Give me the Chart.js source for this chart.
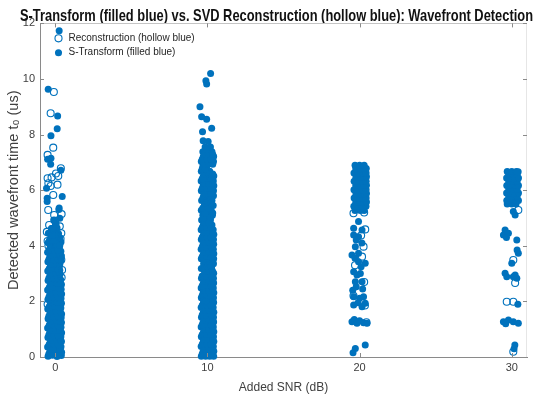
<!DOCTYPE html>
<html><head><meta charset="utf-8">
<script src="https://cdn.jsdelivr.net/npm/chart.js@4/dist/chart.umd.min.js"></script>
<style>html,body{margin:0;padding:0;background:#fff;}canvas{display:block;}</style>
</head><body>
<canvas id="c" width="550" height="397"></canvas>
<script>
const titleText = 'S-Transform (filled blue) vs. SVD Reconstruction (hollow blue): Wavefront Detection';
const xTitle = 'Added SNR (dB)';
const yTitle = 'Detected wavefront time t\u2080 (us)';
const seriesNames = ['Reconstruction (hollow blue)', 'S-Transform (filled blue)'];
const snrLevels = [0, 10, 20, 30];
const xTicks = [0, 10, 20, 30];
const yTicks = [0, 2, 4, 6, 8, 10, 12];

// [offset from SNR level, detected time] pairs, S-Transform (filled)
const st0 = [
 [-0.47,0.03],[-0.18,0.06],[0.12,0.02],[0.40,0.05],
 [-0.35,0.2],[-0.05,0.18],[0.25,0.22],[0.42,0.17],
 [-0.5,0.36],[-0.2,0.38],[0.1,0.34],[0.38,0.37],
 [-0.33,0.53],[-0.02,0.55],[0.26,0.51],[0.41,0.56],
 [-0.48,0.7],[-0.16,0.72],[0.13,0.69],[0.37,0.73],
 [-0.36,0.88],[-0.06,0.86],[0.24,0.9],[0.42,0.87],
 [-0.5,1.04],[-0.19,1.06],[0.1,1.03],[0.38,1.07],
 [-0.34,1.21],[-0.03,1.23],[0.27,1.2],[0.41,1.24],
 [-0.47,1.38],[-0.17,1.4],[0.12,1.37],[0.39,1.41],
 [-0.35,1.56],[-0.05,1.54],[0.25,1.58],[0.42,1.55],
 [-0.49,1.73],[-0.2,1.75],[0.09,1.72],[0.37,1.76],
 [-0.32,1.9],[-0.02,1.92],[0.28,1.89],[0.41,1.93],
 [-0.48,2.07],[-0.16,2.09],[0.13,2.06],[0.38,2.1],
 [-0.36,2.24],[-0.06,2.26],[0.23,2.23],[0.42,2.27],
 [-0.5,2.41],[-0.19,2.43],[0.11,2.4],[0.39,2.44],
 [-0.33,2.58],[-0.03,2.6],[0.27,2.57],[0.41,2.61],
 [-0.47,2.75],[-0.17,2.77],[0.12,2.74],[0.36,2.78],
 [-0.35,2.92],[-0.05,2.94],[0.24,2.91],
 [-0.49,3.09],[-0.2,3.11],[0.1,3.08],[0.3,3.12],
 [-0.32,3.26],[-0.02,3.28],[0.27,3.25],
 [-0.48,3.43],[-0.16,3.45],[0.13,3.42],[0.38,3.46],
 [-0.36,3.6],[-0.06,3.62],[0.24,3.59],[0.41,3.63],
 [-0.5,3.77],[-0.19,3.79],[0.1,3.76],[0.37,3.8],
 [-0.33,3.94],[-0.03,3.96],[0.27,3.93],
 [-0.47,4.11],[-0.15,4.13],[0.14,4.1],[0.38,4.14],
 [-0.3,4.28],[0.02,4.3],[0.3,4.26],
 [-0.45,4.45],[-0.1,4.47],[0.22,4.43],
 [-0.25,4.62],[0.12,4.64],
 [0.06,4.78],[0.3,4.99],[-0.1,4.93],
 [-0.42,0.11],[-0.1,0.12],[0.2,0.1],
 [-0.26,0.28],[0.05,0.29],[0.33,0.27],
 [-0.4,0.45],[-0.08,0.46],[0.2,0.44],
 [-0.22,0.62],[0.08,0.63],[0.34,0.61],
 [-0.42,0.79],[-0.1,0.8],[0.2,0.78],
 [-0.25,0.96],[0.05,0.97],[0.33,0.95],
 [-0.4,1.13],[-0.08,1.14],[0.2,1.12],
 [-0.24,1.3],[0.08,1.31],[0.34,1.29],
 [-0.42,1.47],[-0.1,1.48],[0.2,1.46],
 [-0.25,1.64],[0.05,1.65],[0.33,1.63],
 [-0.4,1.81],[-0.08,1.82],[0.2,1.8],
 [-0.24,1.98],[0.08,1.99],[0.34,1.97],
 [-0.42,2.15],[-0.1,2.16],[0.2,2.14],
 [-0.25,2.32],[0.05,2.33],[0.33,2.31],
 [-0.4,2.49],[-0.08,2.5],[0.2,2.48],
 [-0.24,2.66],[0.08,2.67],[0.34,2.65],
 [-0.42,2.83],[-0.1,2.84],[0.2,2.82],
 [-0.25,3.0],[0.05,3.01],[0.33,2.99],
 [-0.4,3.17],[-0.08,3.18],[0.2,3.16],
 [-0.24,3.34],[0.08,3.35],[0.3,3.33],
 [-0.42,3.51],[-0.1,3.52],[0.2,3.5],
 [-0.25,3.68],[0.05,3.69],[0.33,3.67],
 [-0.4,3.85],[-0.08,3.86],[0.2,3.84],
 [-0.24,4.02],[0.08,4.03],[0.3,4.01],
 [-0.38,4.2],[-0.05,4.2],[0.15,4.36],[-0.2,4.37],
 [-0.53,5.59],[0.26,5.36],[0.24,5.31],[-0.53,5.71],[0.46,5.77],[-0.57,6.07],
 [0.37,6.72],[-0.3,6.93],[-0.5,7.11],[-0.28,7.15],[-0.28,7.96],[0.13,8.21],
 [0.16,8.67],[-0.46,9.63],[0.26,11.74]
];
const st10 = [
 [-0.4,0.03],[-0.12,0.03],[0.15,0.03],[0.41,0.03],
 [-0.28,0.2],[0.01,0.2],[0.28,0.2],[0.42,0.21],
 [-0.41,0.38],[-0.14,0.38],[0.13,0.38],[0.39,0.38],
 [-0.27,0.55],[0.02,0.55],[0.29,0.55],[0.42,0.56],
 [-0.4,0.73],[-0.11,0.73],[0.16,0.73],[0.4,0.73],
 [-0.26,0.9],[0.0,0.9],[0.27,0.9],[0.42,0.91],
 [-0.41,1.08],[-0.13,1.08],[0.14,1.08],[0.39,1.08],
 [-0.28,1.25],[0.03,1.25],[0.3,1.25],[0.41,1.26],
 [-0.39,1.43],[-0.12,1.43],[0.15,1.43],[0.4,1.43],
 [-0.27,1.6],[0.01,1.6],[0.28,1.6],[0.42,1.61],
 [-0.41,1.78],[-0.14,1.78],[0.13,1.78],[0.38,1.78],
 [-0.26,1.95],[0.02,1.95],[0.29,1.95],[0.41,1.96],
 [-0.4,2.13],[-0.11,2.13],[0.16,2.13],[0.4,2.13],
 [-0.28,2.3],[0.0,2.3],[0.27,2.3],[0.42,2.31],
 [-0.41,2.48],[-0.13,2.48],[0.14,2.48],[0.39,2.48],
 [-0.27,2.65],[0.03,2.65],[0.3,2.65],[0.41,2.66],
 [-0.39,2.83],[-0.12,2.83],[0.15,2.83],[0.4,2.83],
 [-0.1,3.0],[0.2,3.0],[0.41,3.01],
 [-0.4,3.18],[0.0,3.18],[0.28,3.18],
 [-0.25,3.35],[0.12,3.35],[0.4,3.35],
 [-0.4,3.53],[-0.1,3.53],[0.18,3.53],[0.41,3.53],
 [-0.27,3.7],[0.02,3.7],[0.3,3.7],[0.42,3.71],
 [-0.41,3.88],[-0.13,3.88],[0.14,3.88],[0.39,3.88],
 [-0.28,4.05],[0.01,4.05],[0.28,4.05],[0.41,4.06],
 [-0.4,4.23],[-0.12,4.23],[0.15,4.23],[0.4,4.23],
 [-0.26,4.4],[0.02,4.4],[0.29,4.4],[0.42,4.41],
 [-0.41,4.58],[-0.14,4.58],[0.13,4.58],[0.38,4.58],
 [-0.27,4.75],[0.0,4.75],[0.3,4.75],
 [-0.38,4.93],[-0.1,4.93],[0.2,4.93],
 [-0.3,5.1],[0.05,5.1],[0.33,5.1],
 [-0.4,5.28],[-0.05,5.28],[0.25,5.28],
 [-0.2,5.45],[0.12,5.45],[0.38,5.45],
 [-0.38,5.63],[0.0,5.63],[0.3,5.63],
 [-0.25,5.8],[0.1,5.8],[0.4,5.8],
 [-0.4,5.98],[-0.12,5.98],[0.15,5.98],[0.4,5.98],
 [-0.28,6.15],[0.0,6.15],[0.28,6.15],[0.42,6.16],
 [-0.41,6.33],[-0.13,6.33],[0.14,6.33],[0.39,6.33],
 [-0.27,6.5],[0.02,6.5],[0.3,6.5],[0.42,6.51],
 [-0.4,6.68],[-0.12,6.68],[0.15,6.68],
 [-0.3,6.85],[-0.05,6.85],
 [-0.4,7.03],[-0.13,7.03],[0.14,7.03],[0.4,7.03],
 [-0.27,7.2],[0.02,7.2],[0.29,7.2],[0.41,7.21],
 [-0.3,7.38],[0.0,7.38],[0.3,7.38],
 [-0.15,7.55],[0.2,7.55],
 [-0.34,0.11],[-0.05,0.12],[0.25,0.11],
 [-0.2,0.29],[0.1,0.3],[0.35,0.28],
 [-0.34,0.46],[-0.05,0.47],[0.25,0.46],
 [-0.2,0.64],[0.1,0.65],[0.35,0.63],
 [-0.34,0.81],[-0.05,0.82],[0.25,0.81],
 [-0.2,0.99],[0.1,1.0],[0.35,0.98],
 [-0.34,1.16],[-0.05,1.17],[0.25,1.16],
 [-0.2,1.34],[0.1,1.35],[0.35,1.33],
 [-0.34,1.51],[-0.05,1.52],[0.25,1.51],
 [-0.2,1.69],[0.1,1.7],[0.35,1.68],
 [-0.34,1.86],[-0.05,1.87],[0.25,1.86],
 [-0.2,2.04],[0.1,2.05],[0.35,2.03],
 [-0.34,2.21],[-0.05,2.22],[0.25,2.21],
 [-0.2,2.39],[0.1,2.4],[0.35,2.38],
 [-0.34,2.56],[-0.05,2.57],[0.25,2.56],
 [-0.2,2.74],[0.1,2.75],[0.35,2.73],
 [-0.34,2.91],[-0.05,2.92],[0.25,2.91],
 [-0.2,3.09],[0.1,3.1],[0.35,3.08],
 [-0.05,3.27],[0.25,3.26],
 [-0.2,3.44],[0.1,3.45],[0.35,3.43],
 [-0.34,3.61],[-0.05,3.62],[0.25,3.61],
 [-0.2,3.79],[0.1,3.8],[0.35,3.78],
 [-0.34,3.96],[-0.05,3.97],[0.25,3.96],
 [-0.2,4.14],[0.1,4.15],[0.35,4.13],
 [-0.34,4.31],[-0.05,4.32],[0.25,4.31],
 [-0.2,4.49],[0.1,4.5],[0.35,4.48],
 [-0.34,4.66],[-0.05,4.67],[0.25,4.66],
 [-0.2,4.84],[0.1,4.85],
 [-0.25,5.01],[0.2,5.02],
 [-0.15,5.19],[0.35,5.18],
 [-0.3,5.36],[0.05,5.37],
 [-0.1,5.54],[0.22,5.53],
 [-0.3,5.71],[0.2,5.72],
 [-0.1,5.89],[0.25,5.88],
 [-0.34,6.06],[-0.05,6.07],[0.25,6.06],
 [-0.2,6.24],[0.1,6.25],[0.35,6.23],
 [-0.34,6.41],[-0.05,6.42],[0.25,6.41],
 [-0.2,6.59],[0.1,6.6],[0.35,6.58],
 [-0.34,6.76],[-0.15,6.77],
 [-0.2,6.94],[0.1,6.95],[0.35,6.93],
 [-0.34,7.11],[-0.05,7.12],[0.25,7.11],
 [-0.2,7.29],[0.1,7.3],[0.35,7.28],
 [-0.05,7.46],
 [0.05,7.75],[-0.28,7.78],[-0.32,8.1],[0.28,8.23],[-0.05,8.55],[-0.38,8.64],
 [-0.49,9.0],[-0.05,9.82],[-0.1,9.94],[0.21,10.2]
];
const st20 = [
 [-0.3,5.27],[0.05,5.27],[0.3,5.27],
 [-0.38,5.42],[-0.1,5.42],[0.18,5.42],[0.42,5.42],
 [-0.25,5.57],[0.05,5.57],[0.32,5.57],[0.45,5.58],
 [-0.36,5.72],[-0.08,5.72],[0.2,5.72],[0.43,5.72],
 [-0.24,5.87],[0.06,5.87],[0.32,5.87],[0.45,5.88],
 [-0.37,6.02],[-0.09,6.02],[0.19,6.02],[0.43,6.02],
 [-0.25,6.17],[0.05,6.17],[0.31,6.17],[0.45,6.18],
 [-0.36,6.32],[-0.08,6.32],[0.2,6.32],[0.43,6.32],
 [-0.24,6.47],[0.06,6.47],[0.32,6.47],[0.45,6.48],
 [-0.37,6.62],[-0.09,6.62],[0.19,6.62],[0.43,6.62],
 [-0.25,6.77],[0.05,6.77],[0.31,6.77],[0.44,6.78],
 [-0.3,6.9],[0.0,6.9],[0.3,6.9],
 [-0.07,4.87],[-0.39,4.63],[0.16,4.57],[-0.39,4.39],[-0.07,4.33],[-0.22,4.21],
 [0.15,4.1],[-0.28,3.97],[-0.5,3.67],[-0.07,3.73],[-0.3,3.55],[-0.07,3.43],
 [0.37,3.37],[0.1,3.25],[-0.39,3.07],[-0.17,2.95],[0.05,3.0],[-0.28,2.71],
 [0.16,2.71],[-0.22,2.53],[-0.45,2.4],[0.2,2.45],[-0.39,2.17],[0.0,2.11],
 [0.26,2.17],[-0.1,1.95],[-0.39,1.87],[0.16,1.81],[0.37,1.93],[-0.5,1.27],
 [-0.35,1.35],[-0.17,1.21],[0.0,1.3],[0.26,1.23],[0.49,1.21],[-0.28,0.31],
 [-0.43,0.15],[0.37,0.43]
];
const st30 = [
 [-0.3,5.5],[0.0,5.5],[0.28,5.5],
 [-0.33,5.63],[-0.05,5.63],[0.22,5.63],[0.44,5.63],
 [-0.2,5.77],[0.08,5.77],[0.35,5.77],
 [-0.34,5.9],[-0.06,5.9],[0.21,5.9],[0.44,5.9],
 [-0.2,6.04],[0.08,6.04],[0.35,6.04],
 [-0.33,6.17],[-0.05,6.17],[0.22,6.17],[0.44,6.17],
 [-0.2,6.31],[0.08,6.31],[0.35,6.31],
 [-0.34,6.44],[-0.06,6.44],[0.21,6.44],[0.44,6.44],
 [-0.2,6.57],[0.08,6.57],[0.35,6.57],
 [-0.3,6.67],[0.0,6.67],[0.3,6.67],[0.42,6.66],
 [0.1,5.23],[0.22,5.11],[-0.44,4.57],[-0.55,4.39],[-0.22,4.45],[-0.35,4.3],
 [0.33,4.21],[0.43,3.73],[0.35,3.85],[0.0,3.37],[-0.44,3.01],[-0.33,2.89],
 [0.1,2.89],[0.33,2.83],[0.22,2.95],[0.4,1.9],[-0.55,1.27],[-0.22,1.33],
 [0.1,1.27],[0.43,1.21],[-0.4,1.2],[0.2,0.43],[0.15,0.3]
];

// Reconstruction (hollow)
const rec0 = [
 [-0.09,9.53],[-0.3,8.77],[-0.13,7.53],[-0.5,7.27],[0.37,6.79],[0.2,6.51],
 [-0.5,6.43],[-0.24,6.46],[0.05,6.6],[-0.3,6.15],[-0.45,6.25],[0.15,6.2],
 [-0.13,5.83],[-0.46,5.29],[-0.07,5.11],[0.42,5.14],[0.0,4.9],[-0.4,4.75],
 [-0.55,4.5],[0.4,4.45],[-0.2,4.6],[0.3,4.7],[-0.5,4.17],[0.35,4.25],
 [0.45,3.13],[0.42,2.86],[-0.5,1.9],[0.4,3.5],[-0.45,4.0]
];
const rec10 = [[0.1,3.3],[0.0,5.6],[-0.2,2.0],[0.2,6.4]];
const rec20 = [
 [0.37,4.59],[0.1,4.37],[0.26,3.97],[0.16,3.61],[-0.3,3.3],[0.3,2.7],
 [-0.4,2.2],[0.35,1.85],[0.45,1.25],[-0.4,5.17],[0.3,5.2]
];
const rec30 = [[0.43,5.29],[0.1,3.49],[0.22,2.66],[-0.33,1.99],[0.1,1.99],[0.1,0.19]];

const stGroups = [st0, st10, st20, st30];
const recGroups = [rec0, rec10, rec20, rec30];

function toPoints(levels, groups) {
  return groups.flatMap((g, i) => g.map(([dx, y]) => ({x: levels[i] + dx, y: y})));
}

const BLUE = '#0072BD';
const REG = "'Liberation Sans', Arial, sans-serif";
const R = 3.5;

const titlePlugin = {
  id: 'fitTitle',
  afterDraw(chart) {
    const ctx = chart.ctx;
    ctx.save();
    ctx.font = 'bold 17px ' + REG;
    const w = ctx.measureText(titleText).width;
    ctx.translate(276.5, 20.5);
    ctx.scale(513 / w, 1);
    ctx.textAlign = 'center';
    ctx.textBaseline = 'alphabetic';
    ctx.fillStyle = '#111';
    ctx.fillText(titleText, 0, 0);
    ctx.restore();
  }
};
const framePlugin = {
  id: 'frame',
  afterLayout(chart) {
    const l = chart.legend;
    if (l) {
      const h = l.bottom - l.top;
      l.top = chart.chartArea.top + 5.5;
      l.bottom = l.top + h;
      l.left = chart.chartArea.left + 9.1;
    }
  },
  afterDraw(chart) {
    const {ctx, chartArea: a, scales: {x, y}} = chart;
    const line = (x1, y1, x2, y2) => { ctx.beginPath(); ctx.moveTo(x1, y1); ctx.lineTo(x2, y2); ctx.stroke(); };
    ctx.save();
    ctx.lineWidth = 1;
    ctx.strokeStyle = '#c4c4c4';
    line(a.left, Math.round(a.top) + 0.5, a.right, Math.round(a.top) + 0.5);
    ctx.strokeStyle = '#e6e6e6';
    line(Math.round(a.right) - 0.5, a.top, Math.round(a.right) - 0.5, a.bottom);
    ctx.strokeStyle = '#8a8a8a';
    yTicks.forEach(v => {
      const py = Math.round(y.getPixelForValue(v)) + 0.5;
      line(a.left, py, a.left + 4, py);
      line(a.right - 4, py, a.right, py);
    });
    xTicks.forEach(v => {
      const px = Math.round(x.getPixelForValue(v)) + 0.5;
      line(px, a.bottom, px, a.bottom - 4);
      line(px, a.top, px, a.top + 4);
    });
    ctx.restore();
  }
};

new Chart(document.getElementById('c'), {
  type: 'scatter',
  data: {
    datasets: [
      {
        label: seriesNames[0],
        data: toPoints(snrLevels, recGroups),
        pointStyle: 'circle',
        pointRadius: R,
        pointHoverRadius: R,
        pointBackgroundColor: 'rgba(0,0,0,0)',
        pointBorderColor: BLUE,
        pointBorderWidth: 1.1,
        backgroundColor: 'rgba(0,0,0,0)',
        borderColor: BLUE,
        borderWidth: 1.1,
        clip: false
      },
      {
        label: seriesNames[1],
        data: toPoints(snrLevels, stGroups),
        pointStyle: 'circle',
        pointRadius: R,
        pointHoverRadius: R,
        pointBackgroundColor: BLUE,
        pointBorderColor: BLUE,
        pointBorderWidth: 0,
        backgroundColor: BLUE,
        borderColor: BLUE,
        borderWidth: 0,
        clip: false
      }
    ]
  },
  options: {
    responsive: false,
    animation: false,
    events: [],
    layout: {padding: {top: 23.4, right: 23, left: 0, bottom: 0}},
    plugins: {
      title: {display: false},
      tooltip: {enabled: false},
      legend: {
        position: 'chartArea',
        align: 'start',
        labels: {
          usePointStyle: true,
          boxWidth: 10,
          boxHeight: 5,
          padding: 4.4,
          color: '#262626',
          font: {family: REG, size: 10}
        }
      }
    },
    scales: {
      x: {
        type: 'linear',
        min: -1, max: 31,
        afterBuildTicks: s => { s.ticks = xTicks.map(v => ({value: v})); },
        afterFit: s => { s.height = 40; },
        grid: {display: false, drawTicks: false},
        border: {color: '#8a8a8a'},
        ticks: {color: '#404040', font: {family: REG, size: 11}, padding: 4, maxRotation: 0},
        title: {display: true, text: xTitle, color: '#404040', font: {family: REG, size: 12}, padding: {top: 0, bottom: 2.5}}
      },
      y: {
        type: 'linear',
        min: 0, max: 12,
        afterBuildTicks: s => { s.ticks = yTicks.map(v => ({value: v})); },
        afterFit: s => { s.width = 40; },
        grid: {display: false, drawTicks: false},
        border: {color: '#8a8a8a'},
        ticks: {color: '#404040', font: {family: REG, size: 11}, padding: 5},
        title: {display: true, text: yTitle, color: '#404040', font: {family: REG, size: 14.5}, padding: {top: 5, bottom: 0}}
      }
    }
  },
  plugins: [titlePlugin, framePlugin]
});
</script>
</body></html>
